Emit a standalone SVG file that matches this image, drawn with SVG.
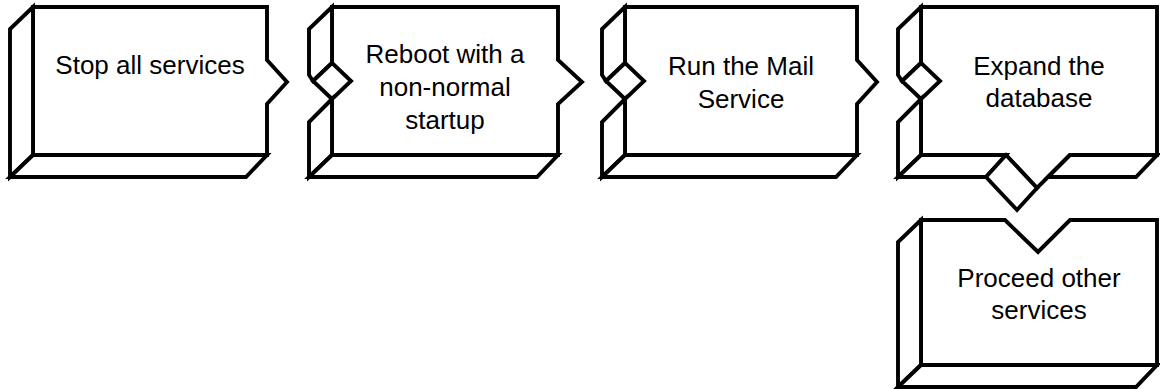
<svg xmlns="http://www.w3.org/2000/svg" width="1160" height="389" viewBox="0 0 1160 389">
<style>
.f{fill:#fff;stroke:#000;stroke-width:3.9;stroke-linejoin:miter;stroke-miterlimit:10}
text{font-family:"Liberation Sans",Arial,sans-serif;font-size:26px;fill:#000;text-anchor:middle}
</style>
<rect width="1160" height="389" fill="#fff"/>
<g id="node1">
<path class="f" d="M33,7 H267 V60 L287,82 L267,104 V155 H33 Z"/>
<path class="f" d="M33,7 L10,29 V177 L33,155 Z"/>
<path class="f" d="M33,155 L10,177 H246 L267,155 Z"/>
<text x="150" y="74">Stop all services</text>
</g>
<g id="node2">
<path class="f" d="M332,7 H558 V60 L582,82 L558,104 V155 H332 V99 L351,81 L332,63 Z"/>
<path class="f" d="M332,7 L309,29 V75 L313,81 L332,63 Z"/>
<path class="f" d="M332,99 L309,122 V177 L332,155 Z"/>
<path class="f" d="M332,155 L309,177 H537 L558,155 Z"/>
<text x="445" y="63">Reboot with a</text>
<text x="445" y="96">non-normal</text>
<text x="445" y="129">startup</text>
</g>
<g id="node3">
<path class="f" d="M625,7 H857 V60 L877,82 L857,104 V155 H625 V99 L644,81 L625,63 Z"/>
<path class="f" d="M625,7 L602,29 V75 L606,81 L625,63 Z"/>
<path class="f" d="M625,99 L602,122 V177 L625,155 Z"/>
<path class="f" d="M625,155 L602,177 H836 L857,155 Z"/>
<text x="741" y="75">Run the Mail</text>
<text x="741" y="108">Service</text>
</g>
<g id="node4">
<path class="f" d="M921,7 H1157 V155 H1070 L1037,188 L1006,155 H921 V99 L940,81 L921,63 Z"/>
<path class="f" d="M921,7 L898,29 V75 L902,81 L921,63 Z"/>
<path class="f" d="M921,99 L898,122 V177 L921,155 Z"/>
<path class="f" d="M921,155 L898,177 H986 L1006,155 Z"/>
<path class="f" d="M1070,155 L1048,177 H1136 L1157,155 Z"/>
<text x="1039" y="75">Expand the</text>
<text x="1039" y="107">database</text>
</g>
<g id="node5">
<path class="f" d="M921,220 H1005 L1038,252 L1070,220 H1157 V365 H921 Z"/>
<path class="f" d="M921,220 L898,242 V387 L921,365 Z"/>
<path class="f" d="M921,365 L898,387 H1136 L1157,365 Z"/>
<text x="1039" y="287">Proceed other</text>
<text x="1039" y="319">services</text>
</g>
<g id="connectors">
<path class="f" d="M332,63 L313,81 L332,99"/>
<path class="f" d="M625,63 L606,81 L625,99"/>
<path class="f" d="M921,63 L902,81 L921,99"/>
<path class="f" d="M986,177 L1006,155 L1037,188 L1017,210 Z"/>
</g>
</svg>
